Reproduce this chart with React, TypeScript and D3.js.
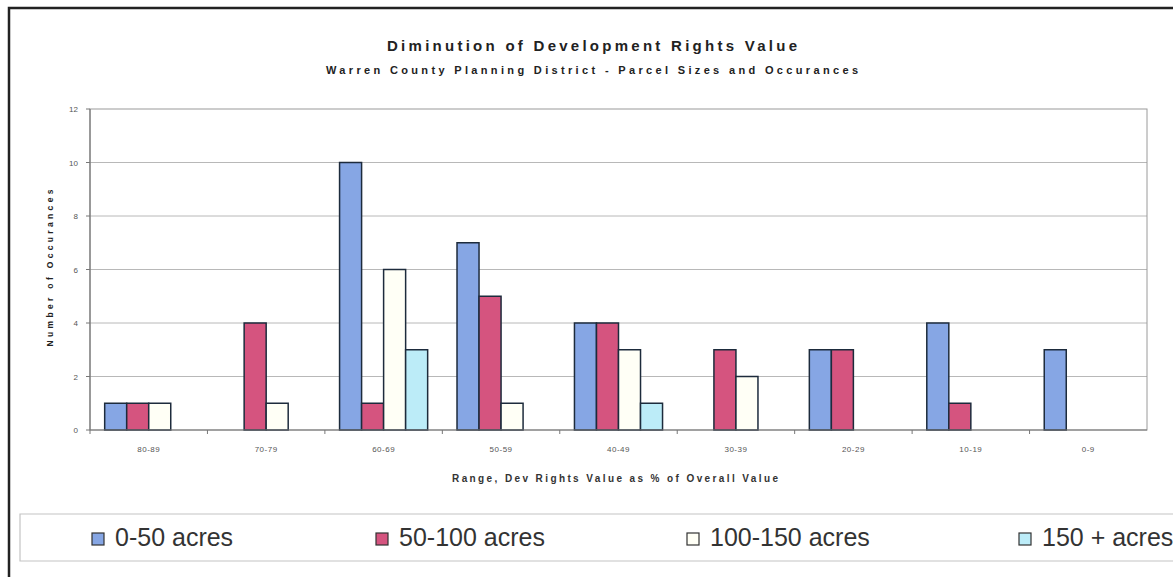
import React from 'react';
import { scaleBand, scaleLinear } from 'd3';

const categories = ['80-89', '70-79', '60-69', '50-59', '40-49', '30-39', '20-29', '10-19', '0-9'];
const seriesNames = ['0-50 acres', '50-100 acres', '100-150 acres', '150 + acres'];
const acres0to50 = [1, 0, 10, 7, 4, 0, 3, 4, 3];
const acres50to100 = [1, 4, 1, 5, 4, 3, 3, 1, 0];
const acres100to150 = [1, 1, 6, 1, 3, 2, 0, 0, 0];
const acres150plus = [0, 0, 3, 0, 1, 0, 0, 0, 0];
const yTicks = [0, 2, 4, 6, 8, 10, 12];
const colors = ['#86a6e4', '#d5547f', '#fffff6', '#bcecf8'];

const W = 1173;
const H = 577;
const plot = { left: 90, right: 1147, top: 109, bottom: 430 };

export default function App() {
  const series = [acres0to50, acres50to100, acres100to150, acres150plus];

  const x0 = scaleBand<string>()
    .domain(categories)
    .range([plot.left, plot.right])
    .paddingInner(0.25)
    .paddingOuter(0.125);
  const x1 = scaleBand<number>()
    .domain([0, 1, 2, 3])
    .range([0, x0.bandwidth()]);
  const y = scaleLinear().domain([0, 12]).range([plot.bottom, plot.top]);

  const step = x0.step();
  const font = 'Liberation Sans, Arial, sans-serif';

  // legend swatch positions
  const legendX = [92, 376, 687, 1019];

  return (
    <svg width={W} height={H} style={{ position: 'absolute', left: 0, top: 0, background: '#fff' }} fontFamily={font}>
      {/* outer frame */}
      <path d={`M9,${H} L9,8 L${W},8`} fill="none" stroke="#222" strokeWidth={2.5} />

      {/* titles */}
      <text x={592} y={51} textAnchor="middle" fontSize={15} fontWeight="bold" fill="#222"
        textLength={410} lengthAdjust="spacing">Diminution of Development Rights Value</text>
      <text x={592} y={74} textAnchor="middle" fontSize={11} fontWeight="bold" fill="#222"
        textLength={532} lengthAdjust="spacing">Warren County Planning District - Parcel Sizes and Occurances</text>

      {/* grid */}
      {yTicks.filter(t => t > 0 && t < 12).map(t => (
        <line key={t} x1={plot.left} x2={plot.right} y1={y(t)} y2={y(t)} stroke="#b8b8b8" strokeWidth={1} />
      ))}
      <rect x={plot.left} y={plot.top} width={plot.right - plot.left} height={plot.bottom - plot.top}
        fill="none" stroke="#9a9a9a" strokeWidth={1} />

      {/* bars */}
      {categories.map((c, i) => (
        <g key={c} transform={`translate(${x0(c)},0)`}>
          {series.map((s, k) => s[i] > 0 ? (
            <rect key={k} x={x1(k)} y={y(s[i])} width={x1.bandwidth()} height={y(0) - y(s[i])}
              fill={colors[k]} stroke="#1d2b3c" strokeWidth={1.5} />
          ) : null)}
        </g>
      ))}

      {/* axes */}
      <line x1={plot.left} x2={plot.left} y1={plot.top} y2={plot.bottom} stroke="#777" strokeWidth={1.2} />
      <line x1={plot.left} x2={plot.right} y1={plot.bottom} y2={plot.bottom} stroke="#777" strokeWidth={1.2} />
      {yTicks.map(t => (
        <g key={t}>
          <line x1={plot.left - 4} x2={plot.left} y1={y(t)} y2={y(t)} stroke="#777" />
          <text x={plot.left - 12} y={y(t) + 3} textAnchor="end" fontSize={8} fill="#555">{t}</text>
        </g>
      ))}
      {categories.map((c, i) => (
        <line key={c} x1={plot.left + step * i} x2={plot.left + step * i} y1={plot.bottom} y2={plot.bottom + 4} stroke="#777" />
      ))}
      {categories.map(c => (
        <text key={c} x={(x0(c) ?? 0) + x0.bandwidth() / 2} y={452} textAnchor="middle" fontSize={8} fill="#555"
          letterSpacing={0.5}>{c}</text>
      ))}

      {/* axis titles */}
      <text x={615} y={482} textAnchor="middle" fontSize={10} fontWeight="bold" fill="#333"
        textLength={326} lengthAdjust="spacing">Range, Dev Rights Value as % of Overall Value</text>
      <text transform="translate(53,268) rotate(-90)" textAnchor="middle" fontSize={8.5} fontWeight="bold" fill="#222"
        textLength={157} lengthAdjust="spacing">Number of Occurances</text>

      {/* legend */}
      <path d={`M${W},514 L20,514 L20,561 L${W},561`} fill="none" stroke="#c4c4c4" strokeWidth={1.2} />
      {seriesNames.map((n, k) => (
        <g key={n}>
          <rect x={legendX[k]} y={533} width={12} height={12} fill={colors[k]} stroke="#333" strokeWidth={1.2} />
          <text x={legendX[k] + 23} y={546} fontSize={25} fill="#333">{n}</text>
        </g>
      ))}
    </svg>
  );
}
